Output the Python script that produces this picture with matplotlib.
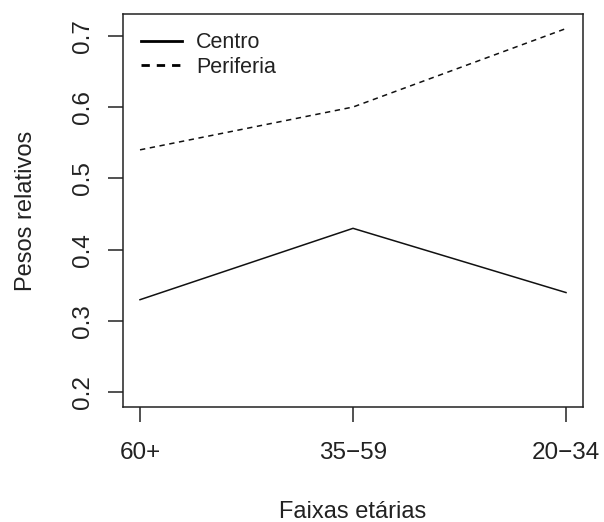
import matplotlib
matplotlib.use("Agg")
import matplotlib.pyplot as plt
from matplotlib.lines import Line2D

plt.rcParams['font.family'] = ['Liberation Sans', 'DejaVu Sans']

# Data
faixas = ["60+", "35\u221259", "20\u221234"]
centro = [0.33, 0.43, 0.34]
periferia = [0.54, 0.60, 0.71]
y_ticks = [0.2, 0.3, 0.4, 0.5, 0.6, 0.7]

fig = plt.figure(figsize=(6.04, 5.22), dpi=100)
ax = fig.add_axes([0.2036, 0.2203, 0.7617, 0.7529])

x = range(1, len(faixas) + 1)
ax.plot(x, centro, color='#111111', lw=1.1)
ax.plot(x, periferia, color='#111111', lw=1.1, linestyle=(0, (3.5, 3)))

ax.set_xlim(1 - 0.08, 3 + 0.08)
ax.set_ylim(0.2 - 0.0204, 0.71 + 0.0204)

ax.set_xticks(list(x))
ax.set_xticklabels(faixas, fontsize=17.5, color='#222222')
ax.set_yticks(y_ticks)
ax.set_yticklabels([f"{v:.1f}" for v in y_ticks], fontsize=17.5, rotation=90,
                   va='center', color='#222222')

ax.tick_params(direction='out', length=11, width=1.1, color='#222222')
ax.tick_params(axis='x', pad=14)
ax.tick_params(axis='y', pad=10)
for s in ax.spines.values():
    s.set_linewidth(1.1)
    s.set_color('#222222')

ax.set_xlabel("Faixas etárias", fontsize=17, labelpad=27, color='#222222')
ax.set_ylabel("Pesos relativos", fontsize=17, labelpad=25, color='#222222')

handles = [Line2D([], [], color='black', lw=2),
           Line2D([], [], color='black', lw=2, linestyle=(0, (3, 2.5)))]
ax.legend(handles, ["Centro", "Periferia"], loc='upper left', frameon=False,
          fontsize=15.5, handlelength=1.9, handletextpad=0.65, labelspacing=0.15,
          borderaxespad=0.45, labelcolor='#222222')

fig.savefig("out.png", dpi=100)
